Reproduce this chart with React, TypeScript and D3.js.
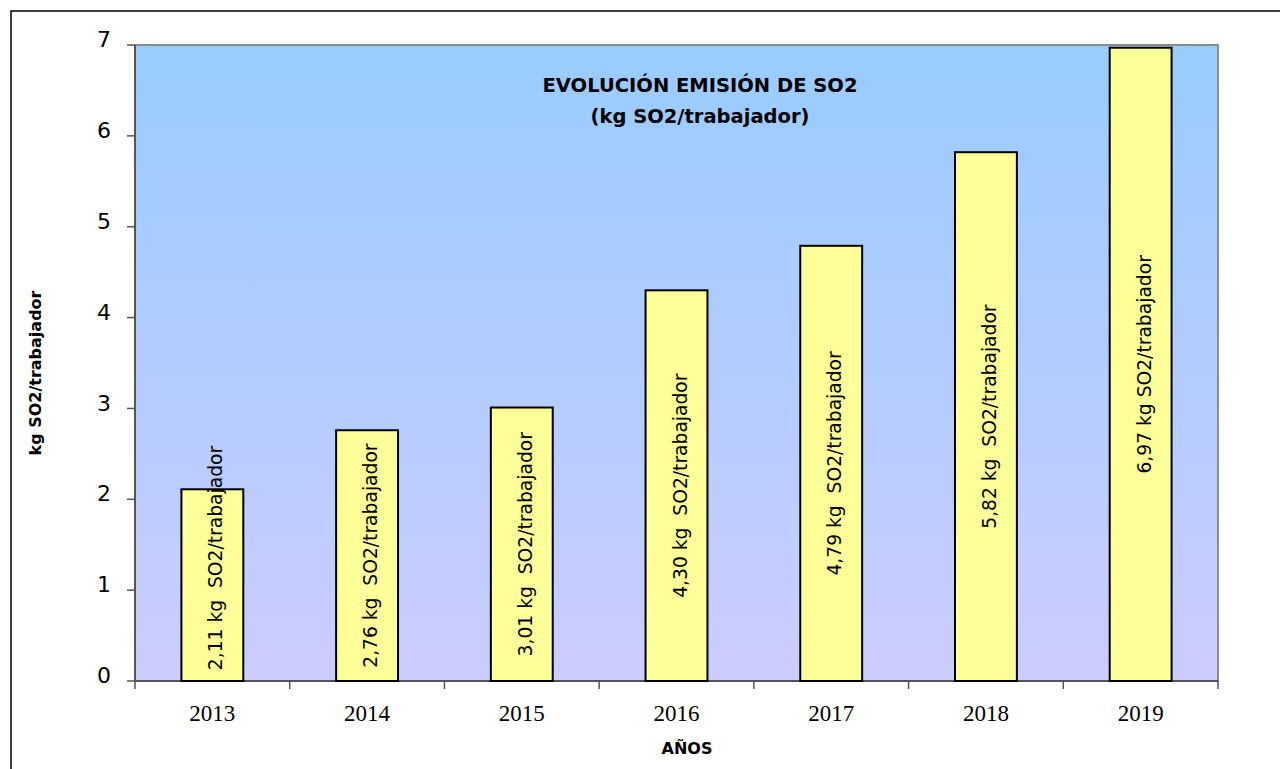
import React from 'react';
import * as d3 from 'd3';

const years = ['2013', '2014', '2015', '2016', '2017', '2018', '2019'];
const values = [2.11, 2.76, 3.01, 4.30, 4.79, 5.82, 6.97];
const barLabels = [
  '2,11 kg  SO2/trabajador',
  '2,76 kg  SO2/trabajador',
  '3,01 kg  SO2/trabajador',
  '4,30 kg  SO2/trabajador',
  '4,79 kg  SO2/trabajador',
  '5,82 kg  SO2/trabajador',
  '6,97 kg SO2/trabajador',
];
const yTicks = [0, 1, 2, 3, 4, 5, 6, 7];

const margin = { top: 45, right: 62, bottom: 88, left: 135 };
const fullWidth = 1280;
const fullHeight = 769;
const width = fullWidth - margin.left - margin.right;
const height = fullHeight - margin.top - margin.bottom;

const gothic = '"DejaVu Sans", Verdana, sans-serif';

export default function App() {
  const x = d3.scaleBand().domain(years).range([0, width]).paddingInner(0).paddingOuter(0);
  const y = d3.scaleLinear().domain([0, 7]).range([height, 0]);
  const barW = x.bandwidth() * 0.4;
  const labelLen = 220;

  return (
    <svg width={fullWidth} height={fullHeight} style={{ position: 'absolute', left: 0, top: 0 }}>
      <defs>
        <linearGradient id="bg" x1="0" y1="0" x2="0" y2="1">
          <stop offset="0%" stopColor="#99ccff" />
          <stop offset="100%" stopColor="#ccccff" />
        </linearGradient>
      </defs>
      <rect x={0} y={0} width={fullWidth} height={fullHeight} fill="#fff" />
      <rect x={11} y={11} width={1300} height={800} fill="none" stroke="#000" strokeWidth={1.5} />

      <g transform={`translate(${margin.left},${margin.top})`}>
        <rect x={0} y={0} width={width} height={height} fill="url(#bg)" stroke="#8c8c8c" strokeWidth={2} />

        {/* y axis */}
        <line x1={0} y1={0} x2={0} y2={height} stroke="#555" strokeWidth={2} />
        {yTicks.map((t) => (
          <g key={t} transform={`translate(0,${y(t)})`}>
            <line x1={-8} x2={0} stroke="#555" strokeWidth={1.5} />
            <text x={-24} dy="0.1em" textAnchor="end" fontFamily={gothic} fontSize={22} fill="#000">
              {t}
            </text>
          </g>
        ))}

        {/* x axis */}
        <line x1={0} y1={height} x2={width} y2={height} stroke="#555" strokeWidth={2} />
        {years.map((d) => (
          <line key={'t' + d} x1={x(d)} x2={x(d)} y1={height} y2={height + 8} stroke="#555" strokeWidth={1.5} />
        ))}
        <line x1={width} x2={width} y1={height} y2={height + 8} stroke="#555" strokeWidth={1.5} />
        {years.map((d) => (
          <text
            key={'l' + d}
            x={(x(d) as number) + x.bandwidth() / 2}
            y={height + 40}
            textAnchor="middle"
            fontFamily='"Liberation Serif", "Times New Roman", serif'
            fontSize={23}
            fill="#000"
          >
            {d}
          </text>
        ))}

        {/* bars */}
        {years.map((d, i) => {
          const cx = (x(d) as number) + x.bandwidth() / 2;
          const top = y(values[i]);
          let mid = (top + height) / 2;
          if (mid + labelLen / 2 > height - 13) mid = height - 13 - labelLen / 2;
          return (
            <g key={'b' + d}>
              <rect x={cx - barW / 2} y={top} width={barW} height={height - top} fill="#ffff99" stroke="#000" strokeWidth={2} />
              <text
                transform={`translate(${cx + 10},${mid}) rotate(-90)`}
                textAnchor="middle"
                fontFamily={gothic}
                fontSize={18.7}
                fill="#000"
                xmlSpace="preserve"
                style={{ whiteSpace: 'pre' }}
              >
                {barLabels[i]}
              </text>
            </g>
          );
        })}
      </g>

      {/* title */}
      <text x={700} y={92} textAnchor="middle" fontFamily={gothic} fontWeight="bold" fontSize={19.5} fill="#000">
        EVOLUCIÓN EMISIÓN DE SO2
      </text>
      <text x={700} y={123} textAnchor="middle" fontFamily={gothic} fontWeight="bold" fontSize={19.5} fill="#000">
        (kg SO2/trabajador)
      </text>

      {/* axis titles */}
      <text x={687} y={754} textAnchor="middle" fontFamily={gothic} fontWeight="bold" fontSize={16} fill="#000">
        AÑOS
      </text>
      <text
        transform="translate(41,373) rotate(-90)"
        textAnchor="middle"
        fontFamily={gothic}
        fontWeight="bold"
        fontSize={16}
        fill="#000"
      >
        kg SO2/trabajador
      </text>
    </svg>
  );
}
